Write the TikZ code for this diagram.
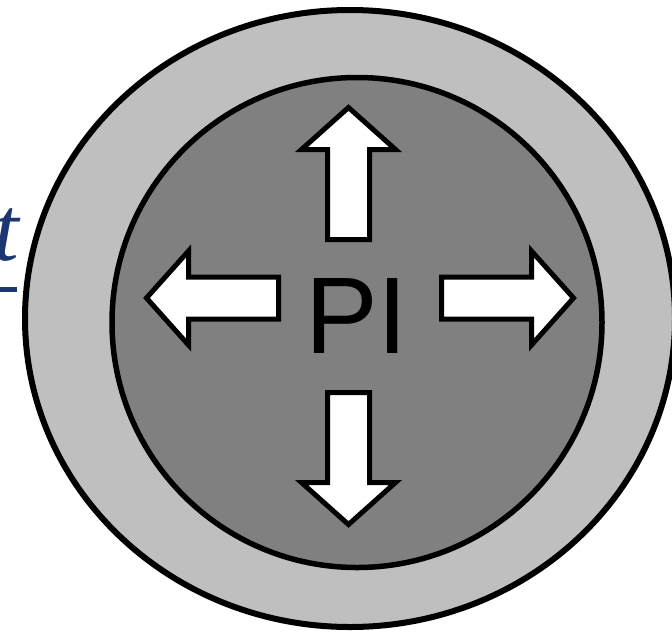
\documentclass[tikz,border=0pt]{standalone}
\usepackage{fontspec}
\setmainfont{Liberation Serif}
\newfontfamily\pifont{Liberation Sans}
\usepackage{xcolor}
\usepackage{tikz}
\usetikzlibrary{positioning}
\definecolor{ringgrey}{HTML}{BFBFBF}
\definecolor{coregrey}{HTML}{808080}
\definecolor{linkblue}{HTML}{1B3670}

\begin{document}
\begin{tikzpicture}[
    x=1pt, y=-1pt,
    ring/.style={draw=black, line width=6pt, fill=ringgrey},
    core/.style={draw=black, line width=5.5pt, fill=coregrey},
    pilabel/.style={inner sep=0pt, font=\pifont\fontsize{109}{109}\selectfont},
    cutword/.style={inner sep=0pt, text=linkblue, font=\itshape\fontsize{92}{92}\selectfont},
    fatarrow/.pic={
      \draw[black, line width=5pt, fill=white]
        (0,-21) -- (90,-21) -- (90,-47) -- (132,0) -- (90,47) -- (90,21) -- (0,21) -- cycle;
    }
  ]
  \useasboundingbox (0,0) rectangle (672,633);

  % --- bout de titre coupe a gauche ---------------------------------------
  \node[cutword, anchor=base east] (tfrag) at (19,260) {t};
  \draw[linkblue, line width=5pt] (0,289) -- (17,289);

  % --- anneau et coeur ----------------------------------------------------
  \draw[ring] (350,318.5) ellipse [x radius=325, y radius=308.5];
  \draw[core] (357,322.5) circle [radius=245];

  % --- quatre fleches autour du sigle --------------------------------------
  \pic[rotate=90]  (up)    at (348.5,239.5) {fatarrow};
  \pic[rotate=-90] (down)  at (348.5,392.5) {fatarrow};
  \pic[rotate=180] (left)  at (278.5,298)   {fatarrow};
  \pic             (right) at (441.5,298)   {fatarrow};

  \node[pilabel] (pi) at (356.5,316) {PI};

\end{tikzpicture}
\end{document}
